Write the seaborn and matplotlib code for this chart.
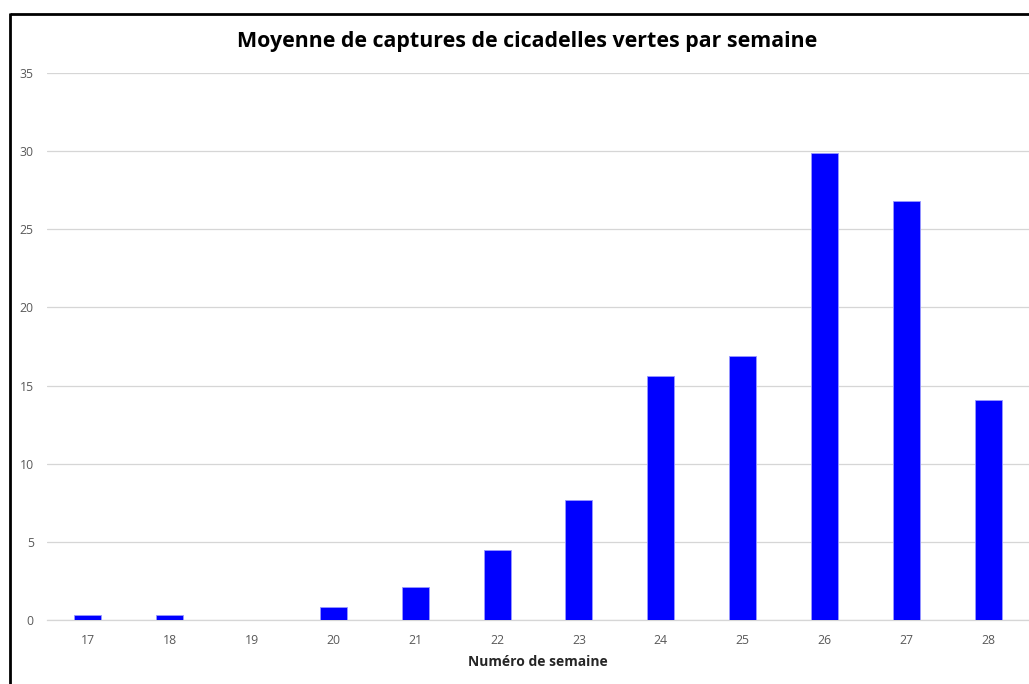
import matplotlib
matplotlib.use("Agg")
import matplotlib.pyplot as plt
import seaborn as sns
import pandas as pd
from matplotlib.lines import Line2D

semaines = ["17", "18", "19", "20", "21", "22", "23", "24", "25", "26", "27", "28"]
captures = [0.35, 0.3, 0.0, 0.8, 2.1, 4.5, 7.7, 15.6, 16.9, 29.9, 26.8, 14.1]
yticks = [0, 5, 10, 15, 20, 25, 30, 35]

titre = "Moyenne de captures de cicadelles vertes par semaine"
xlabel = "Numéro de semaine"

sns.set_style("white")
plt.rcParams["font.family"] = ["Open Sans", "DejaVu Sans"]

df = pd.DataFrame({"semaine": semaines, "captures": captures})

fig = plt.figure(figsize=(10.29, 6.84), dpi=100)
ax = fig.add_axes([47 / 1029, 1 - 620 / 684, 1 - 47 / 1029, (620 - 73) / 684])

sns.barplot(data=df, x="semaine", y="captures", color="#0000FF", saturation=1,
            width=0.33, edgecolor="#9999FF", linewidth=0.6, ax=ax, zorder=3)

ax.set_ylim(0, 35)
ax.set_yticks(yticks)
ax.yaxis.grid(True, color="#D6D6D6", linewidth=0.9, zorder=0)
ax.set_axisbelow(True)
for s in ["top", "right", "left"]:
    ax.spines[s].set_visible(False)
ax.spines["bottom"].set_color("#D6D6D6")
ax.spines["bottom"].set_linewidth(0.9)
ax.tick_params(axis="both", length=0, labelsize=8.8, labelcolor="#595959")
ax.tick_params(axis="y", pad=9.5)
ax.tick_params(axis="x", pad=10)
ax.set_ylabel("")
ax.set_xlabel(xlabel, fontsize=10, fontweight="bold", color="#262626", labelpad=6)

fig.text(527.5 / 1029, 1 - 42 / 684, titre, ha="center", va="center",
         fontsize=15.4, fontweight="bold", color="#000000")

# Cadre du graphique (bords haut et gauche visibles)
fig.add_artist(Line2D([9.5 / 1029, 1.0], [1 - 13.5 / 684, 1 - 13.5 / 684],
                      transform=fig.transFigure, color="black", linewidth=2,
                      solid_capstyle="butt"))
fig.add_artist(Line2D([9.5 / 1029, 9.5 / 1029], [0, 1 - 13 / 684],
                      transform=fig.transFigure, color="black", linewidth=2,
                      solid_capstyle="butt"))

fig.savefig("out.png", dpi=100, facecolor="white")
